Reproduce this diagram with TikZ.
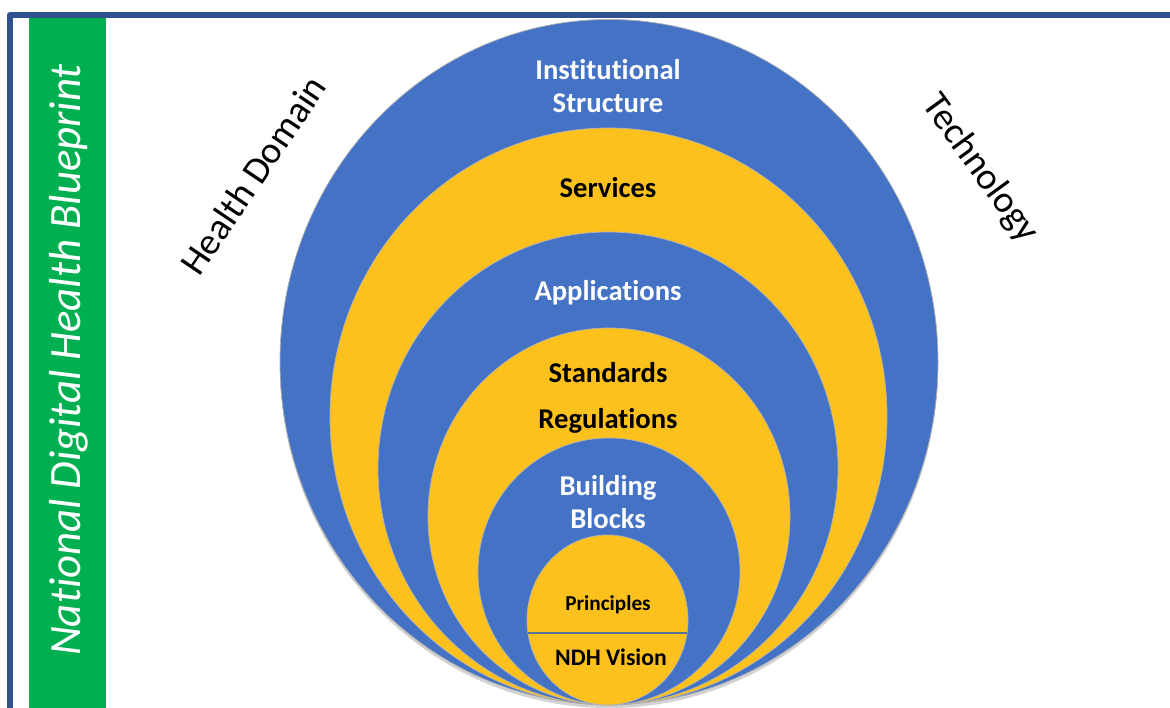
\documentclass[tikz,border=0pt]{standalone}
\usepackage{fontspec}
\setmainfont{Carlito}[Ligatures=CommonOff]
\usetikzlibrary{shadows}
\definecolor{ringblue}{RGB}{68,114,196}
\definecolor{ringgold}{RGB}{253,193,30}
\definecolor{framebl}{RGB}{47,82,143}
\definecolor{bargreen}{RGB}{0,176,80}
\definecolor{splitln}{RGB}{88,118,150}
\tikzset{ringtxt/.style={font=\fontsize{16.3}{18.6}\selectfont\bfseries,align=center},
  sidetxt/.style={font=\fontsize{21.5}{24}\selectfont}}
\begin{document}
\begin{tikzpicture}[x=0.02cm,y=0.02cm,line join=round,line cap=round]
\useasboundingbox (0,0) rectangle (1170,707);
\clip (0,0) rectangle (1170,707);
\fill[white] (0,0) rectangle (1170,707);
\fill[bargreen] (29,-30) rectangle (106,689);
\draw[framebl,line width=3.4pt] (10,-30) rectangle (1200,692);
\path[fill=ringblue,drop shadow={shadow xshift=0pt,shadow yshift=-2pt,opacity=0.35}] (609,345) ellipse [x radius=329,y radius=342.5];
\foreach \cx/\cy/\rx/\ry/\col in {609/345/329/342.5/ringblue,608.5/290.5/278.5/288.5/ringgold,608/238.5/230/236.5/ringblue,609/190.5/181/188.5/ringgold,609/135.5/131/133.5/ringblue,607.5/87/80.5/85/ringgold}
  \filldraw[fill=\col,draw=black!30,line width=0.4pt] (\cx,\cy) ellipse [x radius=\rx,y radius=\ry];
\path (528,74)coordinate(sl) (687,74)coordinate(sr);
\draw[splitln,line width=1.7pt,line cap=butt] (sl)--(sr);
\node[ringtxt,white] (inst) at (608,621) {Institutional\\Structure};
\node[ringtxt,anchor=base] (serv) at (608,509) {Services};
\node[ringtxt,white,anchor=base] (appl) at (608,406) {Applications};
\node[ringtxt,anchor=base] (stnd) at (608,324) {Standards};
\node[ringtxt,anchor=base] (regl) at (608,278) {Regulations};
\node[ringtxt,white] (bblk) at (608,205) {Building\\Blocks};
\node[font=\fontsize{12.1}{14}\selectfont\bfseries,anchor=base] (prin) at (608,96) {Principles};
\node[font=\fontsize{13.5}{15}\selectfont\bfseries,anchor=base] (ndhv) at (611,42) {NDH Vision};
\node[sidetxt,rotate=56] (hdom) at (253,532) {Health Domain};
\node[sidetxt,rotate=-54] (tech) at (980,538) {Technology};
\node[font=\fontsize{25.5}{28}\selectfont\itshape,white,rotate=90] (ndhb) at (69,347) {National Digital Health Blueprint};
\end{tikzpicture}
\end{document}
